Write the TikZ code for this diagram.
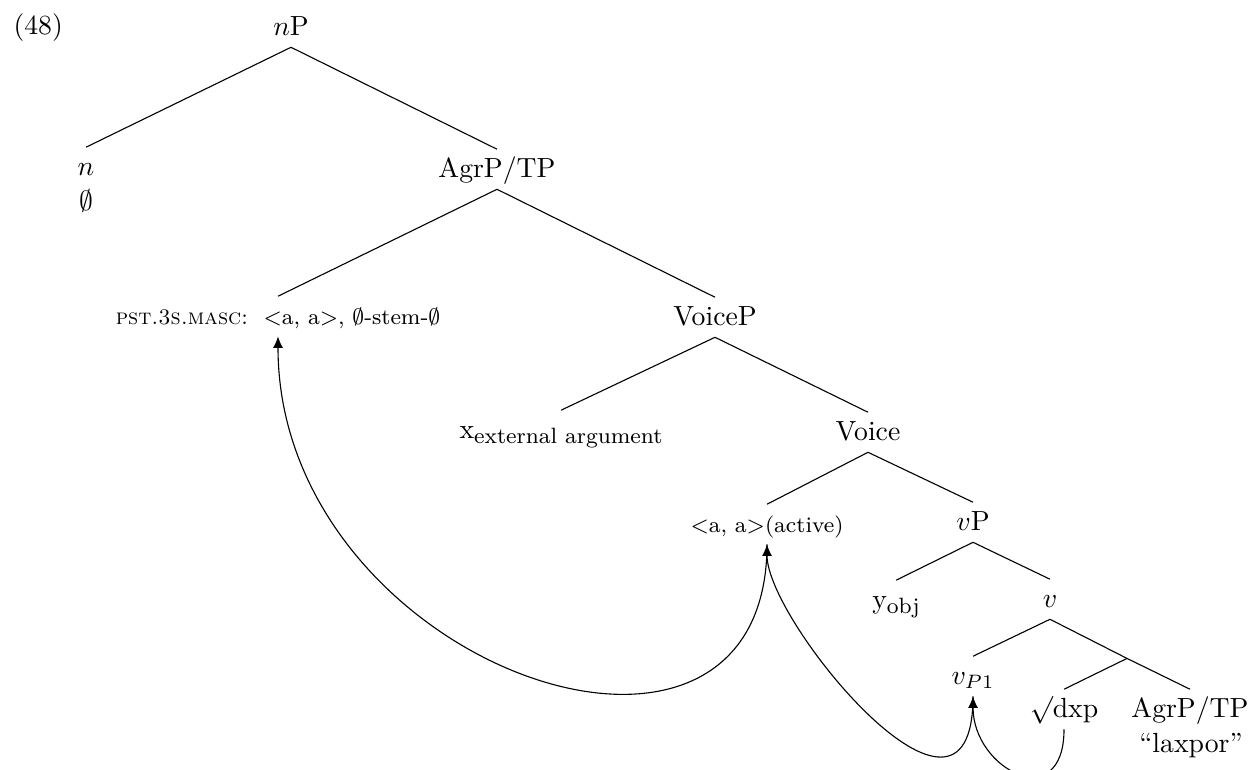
\documentclass[tikz,border=0pt]{standalone}
\usetikzlibrary{arrows.meta}
\begin{document}
\begin{tikzpicture}[x=0.361pt, y=-0.361pt,
  tn/.style={anchor=base, inner sep=3.33pt, text height=6.5pt, text depth=0.9pt},
  branch/.style={line width=0.4pt},
  mv/.style={line width=0.4pt, -{Latex[length=4.2pt,width=3.6pt]}}]
\useasboundingbox (0,0) rectangle (1255,769);
\clip (0,0) rectangle (1255,769);

% example number
\node[anchor=base west, inner sep=0pt] (ex) at (13,34) {(48)};

% tree nodes (positions are baselines)
\node[tn] (nP)     at (291,35)  {$n$P};
\node[tn] (n)      at (86,175)  {$n$};
\node[tn] (nnull)  at (86,210)  {$\emptyset$};
\node[tn] (agr)    at (497,177) {AgrP/TP};
\node[tn, font=\footnotesize] (pst) at (278,324)
  {\textsc{pst.3s.masc}:\ \ $<$a, a$>$, $\emptyset$-stem-$\emptyset$};
\node[tn] (voiceP) at (715,325) {VoiceP};
\node[tn] (xext)   at (561,438) {x\raisebox{-2pt}{\footnotesize external argument}};
\node[tn] (voice)  at (868,440) {Voice};
\node[tn, font=\footnotesize] (act) at (767,532) {$<$a, a$>$(active)};
\node[tn] (vP)     at (973,530) {$v$P};
\node[tn] (yobj)   at (896,608) {y\raisebox{-2pt}{\footnotesize obj}};
\node[tn] (v)      at (1050,607) {$v$};
\node[tn] (vP1)    at (973,684) {$v_{P1}$};
\coordinate (mid)  at (1127,658.4);
\node[tn] (dxp)    at (1064,717) {$\surd$dxp};
\node[tn] (agr2)   at (1190,717) {AgrP/TP};
\node[tn] (lax)    at (1191,752) {``laxpor''};

% branches
\draw[branch] (nP.south) -- (n.north);
\draw[branch] (nP.south) -- (agr.north);
\draw[branch] (agr.south) -- (pst.north);
\draw[branch] (agr.south) -- (voiceP.north);
\draw[branch] (voiceP.south) -- (xext.north);
\draw[branch] (voiceP.south) -- (voice.north);
\draw[branch] (voice.south) -- (act.north);
\draw[branch] (voice.south) -- (vP.north);
\draw[branch] (vP.south) -- (yobj.north);
\draw[branch] (vP.south) -- (v.north);
\draw[branch] (v.south) -- (vP1.north);
\draw[branch] (v.south) -- (mid) -- (agr2.north);
\draw[branch] (mid) -- (dxp.north);

% movement arrows
\draw[mv] (act.south) .. controls +(0,292) and +(0,329) .. (pst.south);
\draw[mv] (vP1.south) .. controls +(0,174) and +(0,78) .. (act.south);
\draw[mv] (dxp.south) .. controls +(0,86) and +(0,74) .. (vP1.south);
\end{tikzpicture}
\end{document}
